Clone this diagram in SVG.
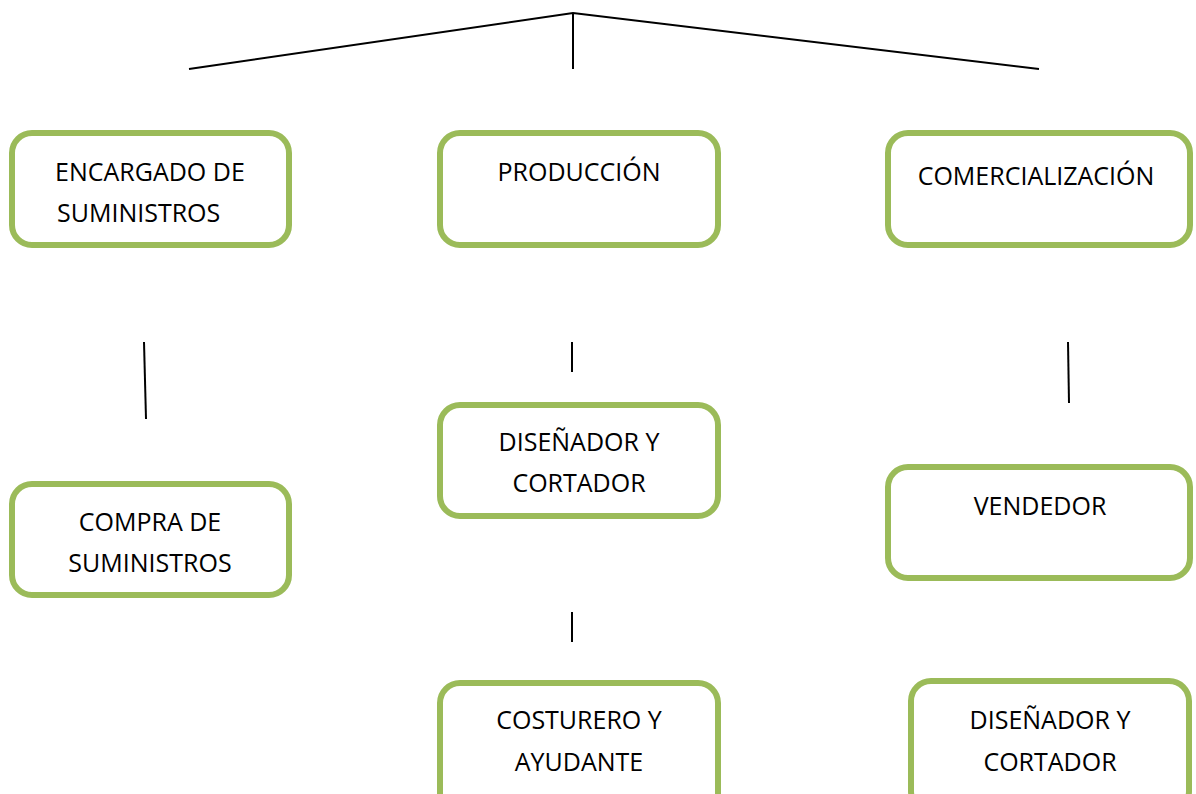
<svg xmlns="http://www.w3.org/2000/svg" width="1196" height="794" viewBox="0 0 1196 794">
<style>
.box{fill:#fff;stroke:#9BBB59;stroke-width:6}
.t{font-family:"Open Sans","Liberation Sans",sans-serif;font-size:25px;fill:#000;text-anchor:middle}
.s{text-anchor:start}
.ln{stroke:#000;stroke-width:2;fill:none}
</style>
<rect width="1196" height="794" fill="#fff"/>
<g id="connectors">
<polyline class="ln" points="189,69 573,13 1039,69"/>
<line class="ln" x1="573" y1="13" x2="573" y2="69"/>
<line class="ln" x1="144" y1="342" x2="146" y2="419"/>
<line class="ln" x1="572" y1="342" x2="572" y2="372"/>
<line class="ln" x1="1068" y1="342" x2="1069" y2="403"/>
<line class="ln" x1="572" y1="612" x2="572" y2="642"/>
</g>
<g id="encargado">
<rect class="box" x="12" y="133" width="277" height="112" rx="20"/>
<text class="t s" x="55" y="181">ENCARGADO DE</text>
<text class="t s" x="57" y="222">SUMINISTROS</text>
</g>
<g id="produccion">
<rect class="box" x="440" y="133" width="278" height="112" rx="20"/>
<text class="t" x="579" y="181">PRODUCCIÓN</text>
</g>
<g id="comercializacion">
<rect class="box" x="888" y="133" width="302" height="112" rx="20"/>
<text class="t" x="1036" y="185">COMERCIALIZACIÓN</text>
</g>
<g id="compra">
<rect class="box" x="12" y="484" width="277" height="111" rx="20"/>
<text class="t" x="150" y="531">COMPRA DE</text>
<text class="t" x="150" y="572">SUMINISTROS</text>
</g>
<g id="disenador1">
<rect class="box" x="440" y="405" width="278" height="111" rx="20"/>
<text class="t" x="579" y="451">DISEÑADOR Y</text>
<text class="t" x="579" y="492">CORTADOR</text>
</g>
<g id="vendedor">
<rect class="box" x="888" y="467" width="302" height="111" rx="20"/>
<text class="t" x="1040" y="515">VENDEDOR</text>
</g>
<g id="costurero">
<rect class="box" x="440" y="683" width="278" height="130" rx="20"/>
<text class="t" x="579" y="729">COSTURERO Y</text>
<text class="t" x="579" y="771">AYUDANTE</text>
</g>
<g id="disenador2">
<rect class="box" x="911" y="681" width="278" height="130" rx="20"/>
<text class="t" x="1050" y="729">DISEÑADOR Y</text>
<text class="t" x="1050" y="771">CORTADOR</text>
</g>
</svg>
